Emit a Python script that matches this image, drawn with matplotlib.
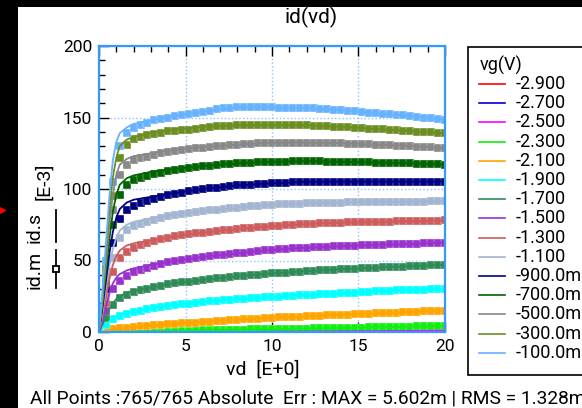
import numpy as np
import matplotlib
matplotlib.use("Agg")
import matplotlib.pyplot as plt
from matplotlib.lines import Line2D
from matplotlib.patches import Rectangle
from matplotlib.ticker import MultipleLocator

plt.rcParams['font.family'] = ['Roboto', 'DejaVu Sans']

vg_labels = ["-2.900", "-2.700", "-2.500", "-2.300", "-2.100", "-1.900", "-1.700",
             "-1.500", "-1.300", "-1.100", "-900.0m", "-700.0m", "-500.0m", "-300.0m", "-100.0m"]
colors = ["#ff0000", "#0000cc", "#ff00ff", "#11ee11", "#ffa500", "#00ffff", "#2e8b57",
          "#9932cc", "#cd5c5c", "#a3b5d0", "#000080", "#006400", "#888888", "#6b8e23", "#66b2ff"]

# measured drain voltage grid (0 .. 20 V, 51 points)
vd_meas = np.linspace(0, 20, 51)

m_m29 = [0.0] * 51
m_m27 = [0.0] * 51
m_m25 = [0, 0, 0, 0, 0, 0, 0, 0, 0, 0,
         0, 0, 0, 0, 0, 0.01, 0.01, 0.01, 0.02, 0.02,
         0.03, 0.03, 0.04, 0.05, 0.06, 0.07, 0.08, 0.1, 0.12, 0.14,
         0.16, 0.18, 0.2, 0.23, 0.26, 0.3, 0.33, 0.37, 0.41, 0.45,
         0.5, 0.55, 0.6, 0.65, 0.7, 0.75, 0.8, 0.86, 0.92, 0.96,
         1.0]
m_m23 = [0, 0.1, 0.2, 0.3, 0.35, 0.4, 0.45, 0.5, 0.6, 0.7,
         0.8, 0.85, 0.9, 1.0, 1.1, 1.2, 1.3, 1.35, 1.45, 1.5,
         1.6, 1.7, 1.8, 1.9, 1.95, 2.0, 2.1, 2.2, 2.3, 2.35,
         2.4, 2.5, 2.6, 2.7, 2.75, 2.8, 2.9, 3.0, 3.1, 3.2,
         3.3, 3.4, 3.5, 3.6, 3.7, 3.8, 3.9, 4.0, 4.1, 4.2,
         4.3]
m_m21 = [0, 1, 1.8, 2.5, 3, 3.5, 3.9, 4.3, 4.7, 5.1,
         5.5, 5.8, 6.1, 6.3, 6.6, 7, 7.3, 7.6, 7.9, 8.2,
         8.5, 8.8, 9.1, 9.4, 9.7, 10, 10.2, 10.4, 10.6, 10.8,
         11, 11.2, 11.4, 11.6, 11.8, 12, 12.2, 12.4, 12.6, 12.8,
         13, 13.2, 13.4, 13.6, 13.8, 14, 14.2, 14.4, 14.6, 14.8,
         15]
m_m19 = [0, 5, 9, 11, 12.5, 14, 15, 15.8, 16.8, 17.7,
         18.5, 18.9, 19.3, 19.7, 20.3, 21, 21.4, 21.8, 22.2, 22.6,
         23, 23.3, 23.6, 23.9, 24.2, 24.5, 24.8, 25.1, 25.4, 25.7,
         26, 26.2, 26.4, 26.6, 26.8, 27, 27.3, 27.6, 27.9, 28.2,
         28.5, 28.7, 28.9, 29.1, 29.3, 29.5, 29.6, 29.7, 29.8, 29.9,
         30]
m_m17 = [0, 10, 19, 23.5, 26, 28, 29.2, 30.3, 31.4, 32.5,
         33.5, 34.1, 34.7, 35.3, 35.9, 36.5, 37, 37.5, 38, 38.5,
         39, 39.4, 39.8, 40.2, 40.6, 41, 41.3, 41.6, 41.9, 42.2,
         42.5, 42.8, 43.1, 43.4, 43.7, 44, 44.2, 44.4, 44.6, 44.8,
         45, 45.2, 45.4, 45.6, 45.8, 46, 46.2, 46.4, 46.6, 46.8,
         47]
m_m15 = [0, 15, 30, 36, 39.5, 42, 43.6, 45, 46.5, 47.8,
         49, 49.8, 50.6, 51.3, 51.9, 52.5, 53, 53.6, 54.1, 54.6,
         55, 55.5, 56, 56.5, 57, 57.5, 57.8, 58.1, 58.4, 58.7,
         59, 59.2, 59.4, 59.6, 59.8, 60, 60.2, 60.4, 60.6, 60.8,
         61, 61.1, 61.2, 61.3, 61.4, 61.5, 61.7, 61.9, 62.1, 62.3,
         62.5]
m_m13 = [0, 20, 42, 52, 56, 59, 60.6, 62, 63.6, 64.9,
         66, 66.8, 67.6, 68.3, 68.9, 69.5, 70, 70.6, 71.1, 71.6,
         72, 72.4, 72.8, 73.2, 73.6, 74, 74.3, 74.6, 74.9, 75.2,
         75.5, 75.7, 75.9, 76.1, 76.3, 76.5, 76.6, 76.7, 76.8, 76.9,
         77, 77.1, 77.2, 77.3, 77.4, 77.5, 77.6, 77.7, 77.8, 77.9,
         78]
m_m11 = [0, 25, 52, 66, 71, 74, 75.8, 77.2, 78.6, 79.9,
         81, 81.8, 82.6, 83.3, 84, 84.5, 85, 85.6, 86.1, 86.6,
         87, 87.4, 87.8, 88.2, 88.6, 89, 89.2, 89.4, 89.6, 89.8,
         90, 90.1, 90.2, 90.3, 90.4, 90.5, 90.6, 90.7, 90.8, 90.9,
         91, 91, 91, 91, 91, 91, 91.1, 91.2, 91.3, 91.4,
         91.5]
m_m09 = [0, 30, 62, 79, 85, 88, 90, 91.5, 93, 94.3,
         95.5, 96.5, 97.5, 98.3, 99.2, 100, 100.5, 101, 101.5, 102,
         102.5, 102.8, 103.1, 103.4, 103.7, 104, 104.2, 104.4, 104.6, 104.8,
         105, 105, 105.1, 105.1, 105.1, 105.2, 105.2, 105.2, 105.2, 105.2,
         105.2, 105.2, 105.2, 105.2, 105.2, 105.2, 105.2, 105.2, 105.2, 105.2,
         105.2]
m_m07 = [0, 35, 75, 96, 103, 106, 107.6, 108.8, 110.2, 111.4,
         112.5, 113.3, 114.1, 114.8, 115.4, 116, 116.4, 116.8, 117.2, 117.6,
         118, 118.2, 118.4, 118.6, 118.8, 119, 119.1, 119.2, 119.3, 119.4,
         119.5, 119.4, 119.3, 119.2, 119.1, 119, 118.9, 118.8, 118.7, 118.6,
         118.5, 118.4, 118.3, 118.2, 118.1, 118, 117.8, 117.6, 117.4, 117.2,
         117]
m_m05 = [0, 40, 85, 110, 117, 120, 121.5, 122.7, 123.8, 125,
         126, 126.6, 127.2, 127.8, 128.4, 129, 129.4, 129.8, 130.2, 130.6,
         131, 131.3, 131.6, 131.9, 132.2, 132.5, 132.5, 132.5, 132.5, 132.5,
         132.5, 132.4, 132.3, 132.2, 132.1, 132, 131.8, 131.6, 131.4, 131.2,
         131, 130.8, 130.6, 130.4, 130.2, 130, 129.7, 129.4, 129.1, 128.8,
         128.5]
m_m03 = [0, 45, 95, 122, 131, 135, 136.5, 137.5, 138.5, 139.5,
         140.5, 140.8, 141.2, 141.6, 142.2, 143, 143.4, 143.8, 144.1, 144.3,
         144.5, 144.7, 144.8, 144.9, 145, 145, 145, 144.9, 144.8, 144.6,
         144.5, 144.3, 144.1, 143.9, 143.7, 143.5, 143.2, 142.9, 142.6, 142.3,
         142, 141.7, 141.4, 141.1, 140.8, 140.5, 140.2, 139.9, 139.6, 139.3,
         139]
m_m01 = [0, 50, 105, 130, 139, 143, 145, 146.5, 148, 149,
         150, 150.8, 151.6, 152.4, 153.2, 154, 154.8, 155.6, 156.3, 156.8,
         157, 157.2, 157.2, 157.1, 157, 157, 156.9, 156.8, 156.7, 156.6,
         156.5, 156.3, 156, 155.6, 155.3, 155, 154.6, 154.2, 153.8, 153.4,
         153, 152.6, 152.2, 151.8, 151.4, 151, 150.5, 150, 149.5, 149,
         148.5]

measured = [m_m29, m_m27, m_m25, m_m23, m_m21, m_m19, m_m17, m_m15,
            m_m13, m_m11, m_m09, m_m07, m_m05, m_m03, m_m01]

# simulated curves
vd_sim = [0, 0.2, 0.4, 0.6, 0.8, 1.0, 1.2, 1.6, 2, 3, 4, 6, 8, 10, 12, 14, 16, 18, 20]
s_m29 = [0] * 19
s_m27 = [0] * 19
s_m25 = [0, 0, 0, 0, 0, 0, 0, 0, 0, 0.01, 0.03, 0.05, 0.1, 0.2, 0.3, 0.45, 0.6, 0.8, 1.0]
s_m23 = [0, 0.05, 0.1, 0.15, 0.2, 0.25, 0.3, 0.35, 0.4, 0.6, 0.8, 1.2, 1.6, 2.0, 2.4, 2.8, 3.3, 3.8, 4.3]
s_m21 = [0, 0.5, 1, 1.5, 2, 2.3, 2.6, 3, 3.5, 4.5, 5.5, 7, 8.5, 10, 11, 12, 13, 14, 15]
s_m19 = [0, 2.5, 5, 7.5, 9.5, 11, 12, 13.5, 14.5, 16.5, 18.5, 21, 23, 24.5, 26, 27, 28.5, 29.5, 30]
s_m17 = [0, 5, 11, 16, 20, 23, 25, 27.5, 29, 31, 33.5, 36.5, 39, 41, 42.5, 44, 45, 46, 47]
s_m15 = [0, 8, 18, 27, 34, 38, 40.5, 43, 44.5, 47, 49, 52.5, 55, 57.5, 59, 60, 61, 61.5, 62.5]
s_m13 = [0, 11, 24, 37, 47, 53, 57, 60.5, 62, 64, 66, 69.5, 72, 74, 75.5, 76.5, 77, 77.5, 78]
s_m11 = [0, 14, 30, 46, 58, 66, 71, 75, 77, 79.5, 81.5, 84.5, 87, 89, 90, 90.5, 91, 91, 91.5]
s_m09 = [0, 17, 36, 55, 70, 80, 86, 90.5, 92.5, 94.5, 96.5, 100, 102.5, 104, 105, 105.2, 105.2, 105.2, 105.2]
s_m07 = [0, 20, 42, 65, 84, 96, 103, 107.5, 109.5, 112, 113.5, 116, 118, 119, 119.5, 119, 118.5, 118, 117]
s_m05 = [0, 22, 48, 75, 96, 110, 117, 121, 123, 125, 127, 129.5, 131, 132.5, 132.5, 132, 131, 130, 128.5]
s_m03 = [0, 25, 55, 85, 108, 122, 130, 134.5, 136.5, 139, 141, 143.5, 144.5, 145, 144.5, 143.5, 142, 140.5, 139]
s_m01 = [0, 30, 62, 95, 120, 133, 139, 143, 145.5, 148, 150.5, 154, 157, 157, 156.5, 155, 153, 151, 148.5]

simulated = [s_m29, s_m27, s_m25, s_m23, s_m21, s_m19, s_m17, s_m15,
             s_m13, s_m11, s_m09, s_m07, s_m05, s_m03, s_m01]

W, H = 582, 408
fig = plt.figure(figsize=(W / 100, H / 100), dpi=100)
fig.patch.set_facecolor('black')
fig.patches.append(Rectangle((18 / W, 0), 1, 1 - 7 / H, transform=fig.transFigure,
                             facecolor='white', edgecolor='none', zorder=-10))
fig.lines.append(Line2D([2 / W], [1 - 210 / H], marker='>', color='red', ms=5,
                        transform=fig.transFigure))

ax = fig.add_axes([99 / W, 1 - 332 / H, (445 - 99) / W, (332 - 46) / H])
ax.set_zorder(5)
ax.set_facecolor('white')

for ym, ys, c in zip(measured, simulated, colors):
    ax.plot(vd_meas, ym, linestyle='none', marker='s', ms=5.6, color=c,
            mec='white', mew=0.25, zorder=3)
    ax.plot(vd_sim, ys, color=c, lw=1.3, zorder=4)

ax.set_xlim(0, 20)
ax.set_ylim(0, 200)
ax.xaxis.set_major_locator(MultipleLocator(5))
ax.xaxis.set_minor_locator(MultipleLocator(1))
ax.yaxis.set_major_locator(MultipleLocator(50))
ax.yaxis.set_minor_locator(MultipleLocator(10))
ax.grid(True, which='major', color='#88c4ff', linestyle=':', linewidth=1.0, zorder=1)
ax.tick_params(which='both', direction='in', top=True, right=False, bottom=True, left=True,
               color='black', labelsize=12.5, width=1)
ax.tick_params(which='major', length=7, pad=5)
ax.tick_params(which='minor', length=4)
for s in ax.spines.values():
    s.set_color('#3399ff')
    s.set_linewidth(1.6)
    s.set_zorder(5)

fs = 13
fig.text(311 / W, 1 - 17 / H, "id(vd)", ha='center', va='center', fontsize=15)
fig.text(263 / W, 1 - 370 / H, "vd  [E+0]", ha='center', va='center', fontsize=14)
fig.text(30 / W, 1 - 399 / H, "All Points :765/765 Absolute  Err : MAX = 5.602m | RMS = 1.328m",
         ha='left', va='center', fontsize=13.8)

# y label with series symbols
fig.text(35 / W, 1 - 270 / H, "id.m", rotation=90, ha='center', va='center', fontsize=14)
fig.text(35 / W, 1 - 227 / H, "id.s", rotation=90, ha='center', va='center', fontsize=14)
fig.text(44 / W, 1 - 181 / H, "[E-3]", rotation=90, ha='center', va='center', fontsize=14)
fig.lines.append(Line2D([56 / W, 56 / W], [1 - 250 / H, 1 - 288 / H], color='black', lw=1.3,
                        transform=fig.transFigure))
fig.lines.append(Line2D([56 / W], [1 - 269 / H], marker='s', ms=5, mfc='white', mec='black',
                        mew=1.3, transform=fig.transFigure))
fig.lines.append(Line2D([56 / W, 56 / W], [1 - 210 / H, 1 - 242 / H], color='black', lw=1.3,
                        transform=fig.transFigure))

# legend box
fig.patches.append(Rectangle((468 / W, 1 - 375 / H), 200 / W, (375 - 47) / H,
                             transform=fig.transFigure, facecolor='white', edgecolor='black',
                             lw=1.2, zorder=2))
fig.text(480 / W, 1 - 65 / H, "vg(V)", ha='left', va='center', fontsize=fs, zorder=3)
for i, (lab, c) in enumerate(zip(vg_labels, colors)):
    yc = 1 - (84 + i * 19.2) / H
    fig.lines.append(Line2D([479 / W, 505 / W], [yc, yc], color=c, lw=1.2,
                            transform=fig.transFigure, zorder=3))
    fig.text(516 / W, yc, lab, ha='left', va='center', fontsize=fs, zorder=3)

fig.savefig("out.png", dpi=100, facecolor=fig.get_facecolor())
